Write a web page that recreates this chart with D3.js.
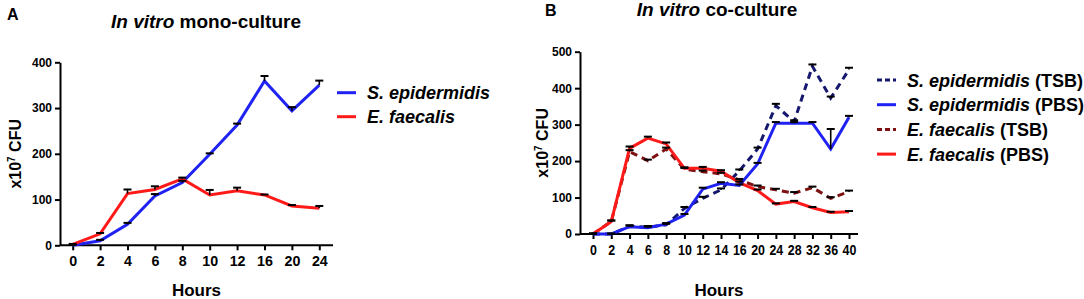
<!DOCTYPE html>
<html>
<head>
<meta charset="utf-8">
<script src="https://cdn.jsdelivr.net/npm/d3@7"></script>
<style>
  html, body { margin: 0; padding: 0; background: #fff; }
  svg { display: block; font-family: "Liberation Sans", Arial, sans-serif; }
  .axis path, .axis line { stroke: #000; stroke-width: 2px; }
  .axis text { fill: #000; font-weight: bold; }
</style>
</head>
<body>
<svg id="chart" width="1084" height="299"></svg>
<script>
// ---------- Panel A data ----------
const hoursA = ["0", "2", "4", "6", "8", "10", "12", "16", "20", "24"];
const sEpiA = [0, 10, 46, 108, 137, 199, 263, 359, 294, 350];
const sEpiAErr = [1, 2, 3, 4, 4, 2, 3, 11, 8, 10];
const eFaeA = [2, 25, 113, 122, 145, 110, 119, 110, 86, 81];
const eFaeAErr = [1, 2, 9, 7, 3, 11, 7, 1, 2, 5];
const yTicksA = [0, 100, 200, 300, 400];

// ---------- Panel B data ----------
const hoursB = ["0", "2", "4", "6", "8", "10", "12", "14", "16", "20", "24", "28", "32", "36", "40"];
const sEpiTSB = [0, 0, 21, 19, 25, 70, 98, 121, 173, 233, 352, 308, 460, 373, 451];
const sEpiTSBErr = [1, 1, 3, 3, 3, 4, 4, 4, 4, 4, 5, 4, 5, 4, 5];
const sEpiPBS = [0, 0, 20, 17, 27, 52, 123, 139, 133, 192, 304, 304, 304, 233, 320];
const sEpiPBSErr = [1, 1, 3, 3, 3, 3, 4, 3, 3, 3, 3, 3, 3, 55, 4];
const eFaeTSB = [0, 34, 226, 201, 233, 178, 171, 165, 148, 130, 121, 112, 127, 98, 116];
const eFaeTSBErr = [1, 3, 4, 3, 4, 3, 3, 3, 3, 3, 3, 3, 3, 3, 3];
const eFaePBS = [0, 34, 235, 263, 247, 180, 180, 172, 141, 119, 82, 89, 72, 59, 61];
const eFaePBSErr = [1, 3, 5, 4, 4, 3, 4, 3, 3, 3, 2, 2, 2, 2, 2];
const yTicksB = [0, 100, 200, 300, 400, 500];

const BLUE = "#1f22f2", RED = "#ff1a1a", NAVY = "#16186e", DARKRED = "#7e1212";

const svg = d3.select("#chart");

function drawPanel(cfg) {
  const g = svg.append("g");
  const x = d3.scalePoint().domain(cfg.cats).range(cfg.xRange);
  const y = d3.scaleLinear().domain(cfg.yDomain).range(cfg.yRange);

  // axes
  const xa = g.append("g").attr("class", "axis")
    .attr("transform", `translate(0,${cfg.yRange[0]})`)
    .call(d3.axisBottom(x).tickSize(5).tickSizeOuter(0).tickPadding(5));
  xa.select(".domain").attr("d", `M${cfg.axisX0},0H${cfg.axisX1}`);
  xa.selectAll("text").style("font-size", "15.5px")
    .attr("transform", `scale(${cfg.xLabelScale},1)`);

  const ya = g.append("g").attr("class", "axis")
    .attr("transform", `translate(${cfg.axisX0},0)`)
    .call(d3.axisLeft(y).tickValues(cfg.yTicks).tickSize(5).tickSizeOuter(0).tickPadding(3));
  ya.selectAll("text").style("font-size", "12px");

  // y label
  const yl = g.append("text")
    .attr("transform", `translate(${cfg.yLabelX},${(cfg.yRange[0] + cfg.yRange[1]) / 2}) rotate(-90)`)
    .attr("text-anchor", "middle")
    .style("font-size", "16px").style("font-weight", "bold");
  yl.append("tspan").text("x10");
  yl.append("tspan").text("7").style("font-size", "10px").attr("dy", -6);
  yl.append("tspan").text(" CFU").attr("dy", 6);

  // x label
  g.append("text")
    .attr("x", (cfg.axisX0 + cfg.axisX1) / 2).attr("y", 296)
    .attr("text-anchor", "middle")
    .style("font-size", "17px").style("font-weight", "bold")
    .text("Hours");

  // title
  const t = g.append("text")
    .attr("x", cfg.titleX).attr("y", cfg.titleY)
    .attr("text-anchor", "middle")
    .style("font-size", "19px").style("font-weight", "bold");
  t.append("tspan").style("font-style", "italic").text("In vitro");
  t.append("tspan").text(" " + cfg.titleRest);

  // panel letter
  g.append("text").attr("x", cfg.letterX).attr("y", cfg.letterY)
    .style("font-size", "16px").style("font-weight", "bold").text(cfg.letter);

  // series lines
  const line = d3.line().x((d, i) => x(cfg.cats[i])).y(d => y(d));
  cfg.series.forEach(s => {
    g.append("path").datum(s.values)
      .attr("fill", "none").attr("stroke", s.color).attr("stroke-width", 3)
      .attr("stroke-dasharray", s.dash ? "7,5" : null)
      .attr("stroke-linejoin", "miter")
      .attr("d", line);
  });
  // error bars
  cfg.series.forEach(s => {
    const eb = g.append("g").attr("stroke", "#000").attr("stroke-width", 1.6);
    s.values.forEach((v, i) => {
      const cx = x(cfg.cats[i]);
      const top = y(v + s.err[i]);
      eb.append("line").attr("x1", cx).attr("x2", cx).attr("y1", y(v)).attr("y2", top);
      eb.append("line").attr("x1", cx - 4).attr("x2", cx + 4).attr("y1", top).attr("y2", top)
        .attr("stroke-width", 2);
    });
  });

  // legend
  cfg.series.slice().sort((a, b) => a.legendOrder - b.legendOrder).forEach((s, k) => {
    const ly = cfg.legendY + k * cfg.legendStep;
    g.append("line").attr("x1", cfg.legendX).attr("x2", cfg.legendX + 19)
      .attr("y1", ly).attr("y2", ly)
      .attr("stroke", s.color).attr("stroke-width", 3)
      .attr("stroke-dasharray", s.dash ? "5,3" : null);
    const lt = g.append("text").attr("x", cfg.legendX + 30).attr("y", ly + 6.5)
      .style("font-size", "18px").style("font-weight", "bold");
    lt.append("tspan").style("font-style", "italic").text(s.name);
    if (s.medium) lt.append("tspan").text(" (" + s.medium + ")");
  });
}

drawPanel({
  cats: hoursA, xRange: [72.7, 319.3], axisX0: 60, axisX1: 333,
  yDomain: [0, 400], yRange: [245.3, 62.3], yTicks: yTicksA,
  xLabelScale: 0.92, yLabelX: 21,
  titleX: 206, titleY: 28, titleRest: "mono-culture",
  letter: "A", letterX: 7, letterY: 20,
  legendX: 337, legendY: 92.7, legendStep: 24,
  series: [
    { name: "S. epidermidis", values: sEpiA, err: sEpiAErr, color: BLUE, legendOrder: 0 },
    { name: "E. faecalis", values: eFaeA, err: eFaeAErr, color: RED, legendOrder: 1 }
  ]
});

drawPanel({
  cats: hoursB, xRange: [593, 849], axisX0: 580, axisX1: 858,
  yDomain: [0, 500], yRange: [234, 51.7], yTicks: yTicksB,
  xLabelScale: 0.8, yLabelX: 548,
  titleX: 717, titleY: 16, titleRest: "co-culture",
  letter: "B", letterX: 545, letterY: 16,
  legendX: 877, legendY: 80, legendStep: 24.7,
  series: [
    { name: "E. faecalis", medium: "TSB", values: eFaeTSB, err: eFaeTSBErr, color: DARKRED, dash: true, legendOrder: 2 },
    { name: "S. epidermidis", medium: "TSB", values: sEpiTSB, err: sEpiTSBErr, color: NAVY, dash: true, legendOrder: 0 },
    { name: "E. faecalis", medium: "PBS", values: eFaePBS, err: eFaePBSErr, color: RED, legendOrder: 3 },
    { name: "S. epidermidis", medium: "PBS", values: sEpiPBS, err: sEpiPBSErr, color: BLUE, legendOrder: 1 }
  ]
});
</script>
</body>
</html>
